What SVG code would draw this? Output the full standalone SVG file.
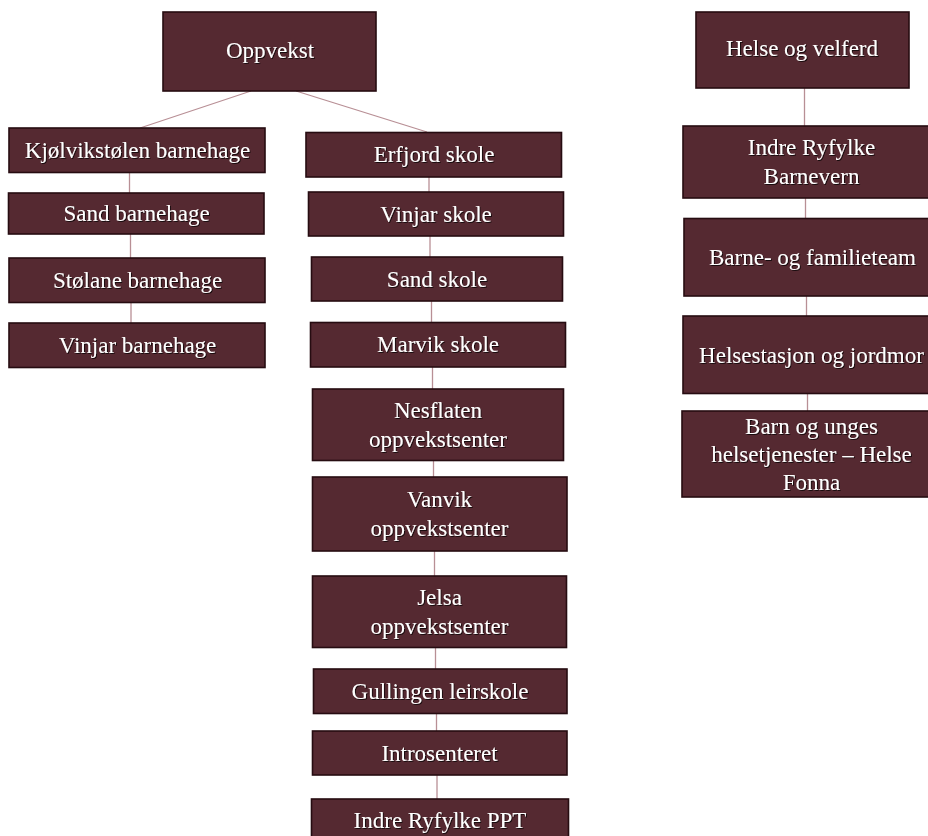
<svg xmlns="http://www.w3.org/2000/svg" width="928" height="836" viewBox="0 0 928 836">
<defs>
<filter id="sh" x="-10%" y="-30%" width="120%" height="160%">
<feDropShadow dx="1" dy="1" stdDeviation="0.7" flood-color="#000" flood-opacity="0.7"/>
</filter>
<style>
.box{fill:#552931;stroke:#260c11;stroke-width:1.6}
.t{font-family:"Liberation Serif","Times New Roman",serif;font-size:23px;fill:#ffffff;text-anchor:middle;filter:url(#sh)}
.c{stroke:#b88f95;stroke-width:1.3;fill:none}
</style>
</defs>
<rect width="928" height="836" fill="#ffffff"/>
<g id="connectors">
<line class="c" x1="251" y1="91" x2="140" y2="128"/>
<line class="c" x1="296" y1="91" x2="427" y2="132"/>
<line class="c" x1="129.5" y1="172" x2="129.5" y2="193"/>
<line class="c" x1="130.5" y1="234" x2="130.5" y2="258"/>
<line class="c" x1="131" y1="302" x2="131" y2="323"/>
<line class="c" x1="429" y1="177" x2="429" y2="192"/>
<line class="c" x1="430" y1="236" x2="430" y2="257"/>
<line class="c" x1="431.5" y1="301" x2="431.5" y2="322"/>
<line class="c" x1="432.5" y1="367" x2="432.5" y2="389"/>
<line class="c" x1="433.5" y1="460" x2="433.5" y2="477"/>
<line class="c" x1="434.5" y1="551" x2="434.5" y2="576"/>
<line class="c" x1="435.5" y1="647" x2="435.5" y2="669"/>
<line class="c" x1="436.5" y1="713" x2="436.5" y2="731"/>
<line class="c" x1="437" y1="775" x2="437" y2="799"/>
<line class="c" x1="804.5" y1="88" x2="804.5" y2="126"/>
<line class="c" x1="805.5" y1="198" x2="805.5" y2="218"/>
<line class="c" x1="806.5" y1="296" x2="806.5" y2="316"/>
<line class="c" x1="807.5" y1="393" x2="807.5" y2="411"/>
</g>
<g id="oppvekst"><rect class="box" x="163" y="12" width="213" height="79"/><text class="t" x="270" y="58">Oppvekst</text></g>
<g id="kjolvikstolen"><rect class="box" x="9" y="128" width="256" height="44.5"/><text class="t" x="137.5" y="157.5">Kjølvikstølen barnehage</text></g>
<g id="sand-barnehage"><rect class="box" x="8.5" y="193" width="255.5" height="41"/><text class="t" x="136.5" y="221">Sand barnehage</text></g>
<g id="stolane"><rect class="box" x="9" y="258" width="256" height="44.5"/><text class="t" x="137.5" y="287.5">Stølane barnehage</text></g>
<g id="vinjar-barnehage"><rect class="box" x="9" y="323" width="256" height="44.5"/><text class="t" x="137.5" y="352.5">Vinjar barnehage</text></g>
<g id="erfjord"><rect class="box" x="306" y="132.5" width="255.5" height="44.5"/><text class="t" x="434" y="162">Erfjord skole</text></g>
<g id="vinjar-skole"><rect class="box" x="308.5" y="192" width="255" height="44"/><text class="t" x="436" y="221.5">Vinjar skole</text></g>
<g id="sand-skole"><rect class="box" x="311.5" y="257" width="251" height="44"/><text class="t" x="437" y="286.5">Sand skole</text></g>
<g id="marvik"><rect class="box" x="310.5" y="322.5" width="255" height="44.5"/><text class="t" x="438" y="352">Marvik skole</text></g>
<g id="nesflaten"><rect class="box" x="312.5" y="389" width="251" height="71.5"/><text class="t" x="438" y="418">Nesflaten</text><text class="t" x="438" y="447">oppvekstsenter</text></g>
<g id="vanvik"><rect class="box" x="312.5" y="477" width="254.5" height="74"/><text class="t" x="439.5" y="506.5">Vanvik</text><text class="t" x="439.5" y="535.5">oppvekstsenter</text></g>
<g id="jelsa"><rect class="box" x="312.5" y="576" width="254" height="71.5"/><text class="t" x="439.5" y="604.5">Jelsa</text><text class="t" x="439.5" y="633.5">oppvekstsenter</text></g>
<g id="gullingen"><rect class="box" x="313.5" y="669" width="253.5" height="44.5"/><text class="t" x="440" y="698.5">Gullingen leirskole</text></g>
<g id="introsenteret"><rect class="box" x="312.5" y="731" width="254.5" height="44"/><text class="t" x="439.5" y="760.5">Introsenteret</text></g>
<g id="ppt"><rect class="box" x="311.5" y="799" width="257" height="46"/><text class="t" x="440" y="827.5">Indre Ryfylke PPT</text></g>
<g id="helse"><rect class="box" x="696" y="12" width="213" height="76"/><text class="t" x="802" y="55.5">Helse og velferd</text></g>
<g id="barnevern"><rect class="box" x="683" y="126" width="260" height="72"/><text class="t" x="811.5" y="155">Indre Ryfylke</text><text class="t" x="811.5" y="183.5">Barnevern</text></g>
<g id="familieteam"><rect class="box" x="684" y="218.5" width="260" height="77.5"/><text class="t" x="812.5" y="265">Barne- og familieteam</text></g>
<g id="helsestasjon"><rect class="box" x="683" y="316" width="260" height="77.5"/><text class="t" x="811.5" y="362.5">Helsestasjon og jordmor</text></g>
<g id="barn-unges"><rect class="box" x="682" y="411" width="260" height="86"/><text class="t" x="811.5" y="434">Barn og unges</text><text class="t" x="811.5" y="462">helsetjenester – Helse</text><text class="t" x="811.5" y="490">Fonna</text></g>
</svg>
